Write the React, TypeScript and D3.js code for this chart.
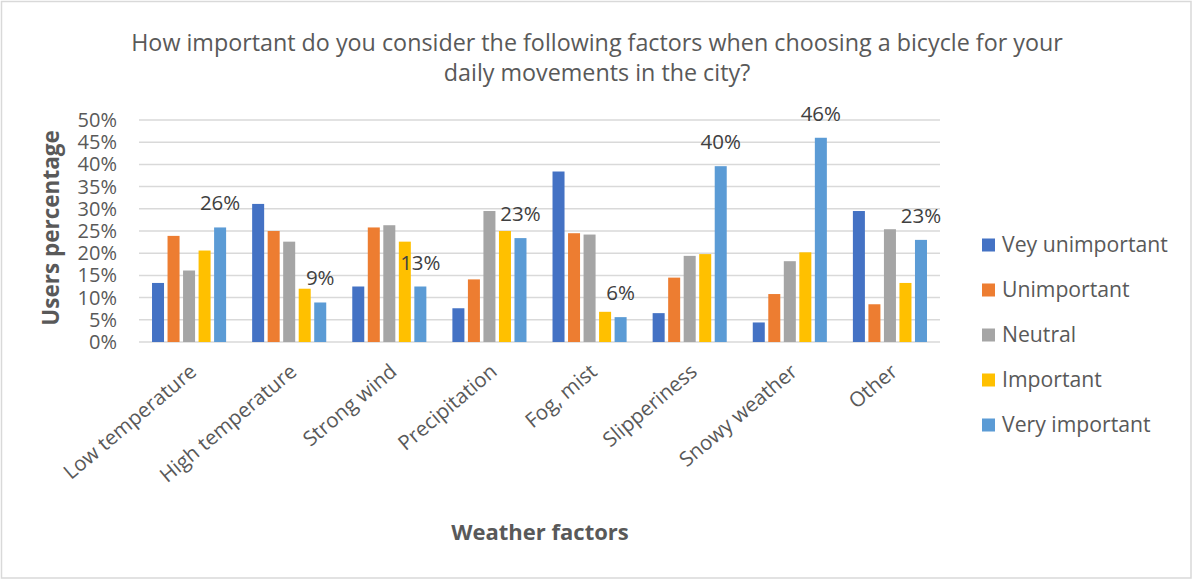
import React from "react";
import * as d3 from "d3";

// Weather factors surveyed
const categories = [
  "Low temperature",
  "High temperature",
  "Strong wind",
  "Precipitation",
  "Fog, mist",
  "Slipperiness",
  "Snowy weather",
  "Other",
];

// Answer levels (legend order)
const seriesNames = ["Vey unimportant", "Unimportant", "Neutral", "Important", "Very important"];
const seriesColors = ["#4472C4", "#ED7D31", "#A5A5A5", "#FFC000", "#5B9BD5"];

// Share of users per answer level, one value per weather factor (percent)
const veryUnimportant = [13.3, 31.1, 12.5, 7.6, 38.4, 6.5, 4.4, 29.5];
const unimportant = [23.9, 25.0, 25.8, 14.1, 24.5, 14.5, 10.8, 8.5];
const neutral = [16.1, 22.6, 26.3, 29.5, 24.2, 19.4, 18.2, 25.4];
const important = [20.6, 12.0, 22.6, 25.0, 6.8, 19.8, 20.2, 13.3];
const veryImportant = [25.8, 8.9, 12.5, 23.4, 5.6, 39.6, 46.0, 23.0];

const yTicks = [0, 5, 10, 15, 20, 25, 30, 35, 40, 45, 50];

const seriesValues = [veryUnimportant, unimportant, neutral, important, veryImportant];

const W = 1193;
const H = 580;
const plot = { left: 139, right: 940, top: 120, bottom: 342 };
const textColor = "#595959";
const font = "'Open Sans', 'DejaVu Sans', sans-serif";

export default function App() {
  const x0 = d3
    .scaleBand<string>()
    .domain(categories)
    .range([plot.left, plot.right])
    .paddingInner(0.26)
    .paddingOuter(0.13);
  const x1 = d3
    .scaleBand<string>()
    .domain(seriesNames)
    .range([0, x0.bandwidth()])
    .paddingInner(0.226);
  const y = d3.scaleLinear().domain([0, 50]).range([plot.bottom, plot.top]);

  const pct = d3.format(".0f");

  return (
    <svg
      width={W}
      height={H}
      style={{ position: "absolute", left: 0, top: 0, background: "#fff" }}
      fontFamily={font}
    >
      <rect x={1.5} y={1.5} width={1189.5} height={576.5} fill="#fff" stroke="#D9D9D9" strokeWidth={1.5} />

      {/* Title */}
      <text x={597} y={51} textAnchor="middle" fontSize={23.3} fill={textColor}>
        How important do you consider the following factors when choosing a bicycle for your
      </text>
      <text x={597} y={81} textAnchor="middle" fontSize={23.3} fill={textColor}>
        daily movements in the city?
      </text>

      {/* Gridlines and y ticks */}
      {yTicks.map((t) => (
        <g key={t}>
          <line x1={plot.left} x2={plot.right} y1={y(t)} y2={y(t)} stroke="#D9D9D9" strokeWidth={1.5} />
          <text x={117} y={y(t)} dy="0.35em" textAnchor="end" fontSize={20} fill={textColor}>
            {t}%
          </text>
        </g>
      ))}

      {/* Bars */}
      {categories.map((c, ci) => (
        <g key={c} transform={`translate(${x0(c)},0)`}>
          {seriesNames.map((s, si) => {
            const v = seriesValues[si][ci];
            return (
              <rect
                key={s}
                x={x1(s)}
                y={y(v)}
                width={x1.bandwidth()}
                height={y(0) - y(v)}
                fill={seriesColors[si]}
              />
            );
          })}
          {/* Value label on the "Very important" bar */}
          <text
            x={(x1(seriesNames[4]) as number) + x1.bandwidth() / 2}
            y={y(veryImportant[ci]) - 17}
            textAnchor="middle"
            fontSize={20.5}
            fill="#404040"
          >
            {pct(veryImportant[ci])}%
          </text>
        </g>
      ))}

      {/* Category labels */}
      {categories.map((c) => (
        <text
          key={c}
          transform={`translate(${(x0(c) as number) + x0.bandwidth() / 2 - 1},362) rotate(-40)`}
          dy="0.75em"
          textAnchor="end"
          fontSize={20.5}
          fill={textColor}
        >
          {c}
        </text>
      ))}

      {/* Axis titles */}
      <text
        transform="translate(59,228) rotate(-90)"
        textAnchor="middle"
        fontSize={22.5}
        fontWeight="bold"
        fill={textColor}
      >
        Users percentage
      </text>
      <text x={540} y={540} textAnchor="middle" fontSize={22} fontWeight="bold" fill={textColor}>
        Weather factors
      </text>

      {/* Legend */}
      {seriesNames.map((s, i) => {
        const cy = 245 + i * 45;
        return (
          <g key={s}>
            <rect x={982} y={cy - 6.5} width={13} height={13} fill={seriesColors[i]} />
            <text x={1002} y={cy} dy="0.35em" fontSize={21.2} fill={textColor}>
              {s}
            </text>
          </g>
        );
      })}
    </svg>
  );
}
